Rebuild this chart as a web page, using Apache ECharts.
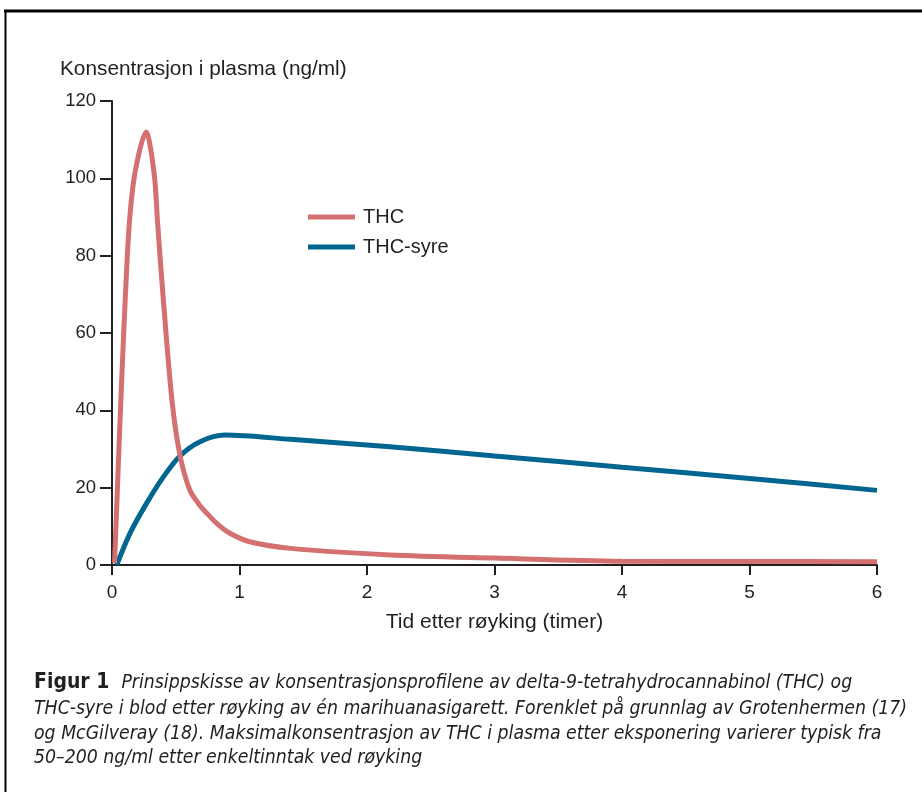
<!DOCTYPE html>
<html>
<head>
<meta charset="utf-8">
<script src="https://cdn.jsdelivr.net/npm/echarts@6/dist/echarts.min.js"></script>
<style>
html,body{margin:0;padding:0;background:#fff;}
#c{width:922px;height:792px;}
</style>
</head>
<body>
<div id="c"></div>
<script>
const thcX = [0.02, 0.045, 0.076, 0.107, 0.136, 0.18, 0.267, 0.33, 0.358, 0.397, 0.47, 0.533, 0.61, 0.68, 0.743, 0.83, 0.925, 1.08, 1.4, 2.18, 3, 4, 5, 6];
const thcY = [0.5, 22, 47.8, 71, 88.4, 101.4, 112, 101.4, 88.4, 71, 42.7, 28.4, 19.4, 15.8, 13.4, 10.5, 8.2, 6.0, 4.3, 2.6, 1.8, 1.0, 0.9, 0.85];
const syreX = [0.037, 0.141, 0.272, 0.403, 0.533, 0.69, 0.886, 1.4, 2.18, 3, 4, 5, 6];
const syreY = [0, 8.2, 16, 22.8, 28.2, 31.9, 33.6, 32.5, 30.6, 28.2, 25.3, 22.4, 19.3];
const xTicks = [0, 1, 2, 3, 4, 5, 6];
const yTicks = [0, 20, 40, 60, 80, 100, 120];
const seriesNames = ['THC', 'THC-syre'];
const yTitle = 'Konsentrasjon i plasma (ng/ml)';
const xTitle = 'Tid etter røyking (timer)';
const captionLines = [
  'Prinsippskisse av konsentrasjonsprofilene av delta-9-tetrahydrocannabinol (THC) og',
  'THC-syre i blod etter røyking av én marihuanasigarett. Forenklet på grunnlag av Grotenhermen (17)',
  'og McGilveray (18). Maksimalkonsentrasjon av THC i plasma etter eksponering varierer typisk fra',
  '50–200 ng/ml etter enkeltinntak ved røyking'
];

const zip = (xs, ys) => xs.map((x, i) => [x, ys[i]]);
const font = '"Liberation Sans", Arial, sans-serif';
const capFont = '"DejaVu Sans Condensed", "Liberation Sans", sans-serif';
const axisColor = '#231f20';
const textColor = '#231f20';
const red = '#d4706f';
const blue = '#006690';

const chart = echarts.init(document.getElementById('c'), null, {renderer: 'canvas'});
chart.setOption({
  animation: false,
  backgroundColor: '#fff',
  grid: {left: 112, right: 45, top: 101, bottom: 227, containLabel: false},
  title: {
    text: yTitle, left: 55, top: 54,
    textStyle: {fontFamily: font, fontSize: 20.8, fontWeight: 'normal', color: textColor}
  },
  legend: {
    orient: 'vertical', left: 308, top: 207, itemGap: 10, padding: 0,
    itemWidth: 47, itemHeight: 5, icon: 'rect',
    textStyle: {fontFamily: font, fontSize: 20, color: textColor, padding: [0, 0, 0, 3]},
    data: seriesNames
  },
  xAxis: {
    type: 'value', min: 0, max: 6, interval: 1,
    name: xTitle, nameLocation: 'middle', nameGap: 47,
    nameTextStyle: {fontFamily: font, fontSize: 21, color: textColor},
    axisLine: {lineStyle: {color: axisColor, width: 2}},
    axisTick: {length: 10, lineStyle: {color: axisColor, width: 2}},
    axisLabel: {fontFamily: font, fontSize: 19, color: textColor, margin: 18,
      formatter: v => xTicks.includes(v) ? String(v) : ''},
    splitLine: {show: false}
  },
  yAxis: {
    type: 'value', min: 0, max: 120, interval: 20,
    axisLine: {show: true, lineStyle: {color: axisColor, width: 2}},
    axisTick: {show: true, length: 12, lineStyle: {color: axisColor, width: 2}},
    axisLabel: {fontFamily: font, fontSize: 18.5, color: textColor, margin: 16,
      formatter: v => yTicks.includes(v) ? String(v) : ''},
    splitLine: {show: false}
  },
  series: [
    {name: seriesNames[0], type: 'line', data: zip(thcX, thcY), smooth: 0.3, symbol: 'none',
      lineStyle: {color: red, width: 5}, itemStyle: {color: red}, z: 3},
    {name: seriesNames[1], type: 'line', data: zip(syreX, syreY), smooth: 0.3, symbol: 'none',
      lineStyle: {color: blue, width: 5}, itemStyle: {color: blue}, z: 2}
  ],
  graphic: [
    {type: 'line', shape: {x1: 4, y1: 11, x2: 922, y2: 11}, style: {stroke: '#000', lineWidth: 3}},
    {type: 'line', shape: {x1: 5.5, y1: 10, x2: 5.5, y2: 792}, style: {stroke: '#000', lineWidth: 2}},
    {type: 'text', left: 34, top: 672, style: {
      text: '{b|Figur 1}{s| }{i|' + captionLines[0] + '}',
      rich: {
        b: {fontFamily: capFont, fontSize: 21, fontWeight: 'bold', fill: textColor},
        s: {fontFamily: capFont, fontSize: 19.3, width: 12},
        i: {fontFamily: capFont, fontSize: 19.3, fontStyle: 'italic', fill: textColor}
      }
    }},
    {type: 'text', left: 34, top: 697, style: {
      text: captionLines.slice(1).join('\n'), lineHeight: 24.5,
      font: 'italic 19.3px ' + capFont, fill: textColor
    }}
  ]
});
</script>
</body>
</html>
